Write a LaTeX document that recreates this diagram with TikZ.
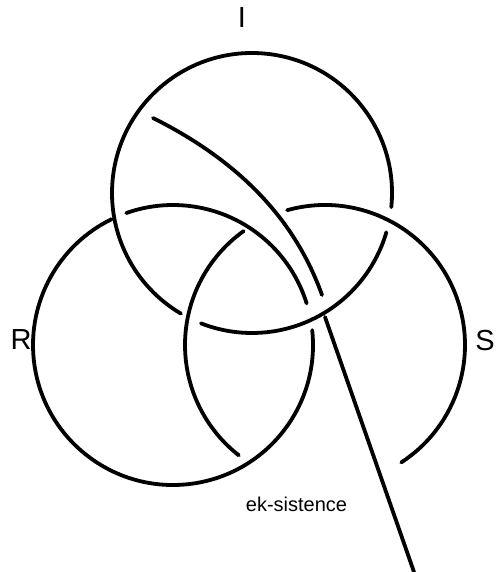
\documentclass[tikz,border=0pt]{standalone}
\usepackage{fontspec}
\setmainfont{Liberation Sans}
\begin{document}
\begin{tikzpicture}[x=1pt,y=-1pt,
  strand/.style={line width=3.8pt,line cap=round,black},
  lab/.style={inner sep=0pt,font=\fontsize{29}{32}\selectfont},
  eklab/.style={inner sep=0pt,anchor=base,font=\fontsize{20}{24}\selectfont}]
\useasboundingbox (0,0) rectangle (496,572);
\coordinate (cI) at (252,193);
\coordinate (cR) at (173,345);
\coordinate (cS) at (325,345);
% circle I
\draw[strand] ([shift={(-5.8:140pt)}]cI) arc[start angle=-5.8,end angle=239.5,radius=140pt];
\draw[strand] ([shift={(248.6:140pt)}]cI) arc[start angle=248.6,end angle=343.7,radius=140pt];
% circle R
\draw[strand] ([shift={(109.5:140pt)}]cR) arc[start angle=109.5,end angle=17.3,radius=140pt];
\draw[strand] ([shift={(6.1:140pt)}]cR) arc[start angle=6.1,end angle=-244,radius=140pt];
% circle S
\draw[strand] ([shift={(125.5:140pt)}]cS) arc[start angle=125.5,end angle=232,radius=140pt];
\draw[strand] ([shift={(105.7:140pt)}]cS) arc[start angle=105.7,end angle=-57,radius=140pt];
% ek-sistence strand
\coordinate (e0) at (153,118);
\coordinate (e1) at (322,295);
\coordinate (e2) at (325,317);
\coordinate (e3) at (414,572);
\draw[strand] (e0) .. controls (233,158) and (293,214) .. (e1);
\draw[strand] (e2) -- (e3);
% labels
\node[lab] (labI) at (242,18) {I};
\node[lab] (labR) at (21,340) {R};
\node[lab] (labS) at (485,341) {S};
\node[eklab] (labE) at (296.5,511) {ek-sistence};
\end{tikzpicture}
\end{document}
